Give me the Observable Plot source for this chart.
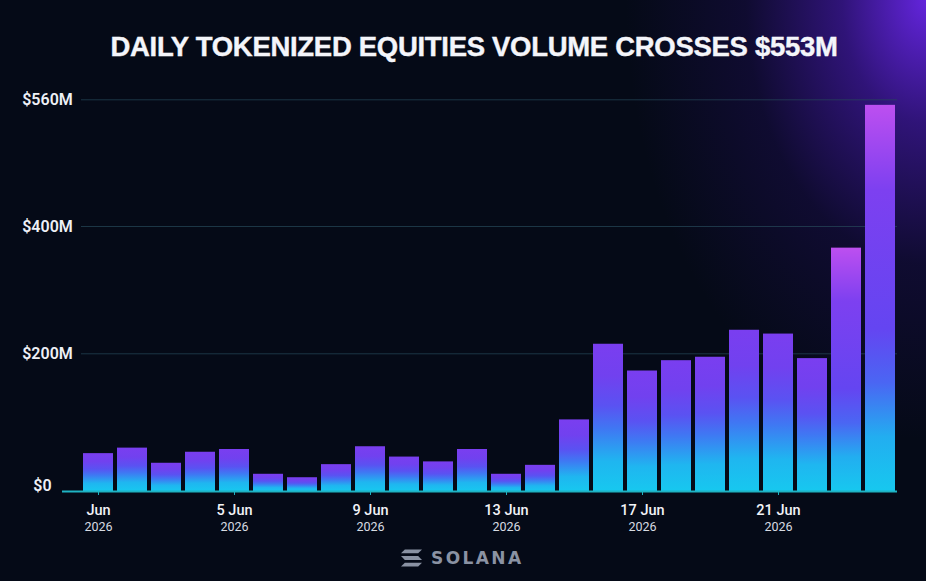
<!DOCTYPE html>
<html>
<head>
<meta charset="utf-8">
<script src="https://cdn.jsdelivr.net/npm/d3@7"></script>
<script src="https://cdn.jsdelivr.net/npm/@observablehq/plot@0.6"></script>
<style>
  html, body { margin: 0; padding: 0; background: #050a17; }
  #card {
    position: relative; width: 926px; height: 581px; overflow: hidden;
    background:
      radial-gradient(ellipse 300px 440px at 100% 0%, rgba(104,38,230,0.95) 0%, rgba(76,26,185,0.6) 28%, rgba(42,15,115,0.28) 60%, rgba(5,10,23,0) 100%),
      #050a17;
  }
  #title {
    position: absolute; left: 0; width: 948px; top: 31px; line-height: 30px;
    text-align: center; white-space: nowrap; letter-spacing: -0.3px;
    font: bold 27.5px "Liberation Sans", Arial, sans-serif; color: #f4f5fa;
    -webkit-text-stroke: 0.4px #f4f5fa;
  }
  #chart { position: absolute; left: 0; top: 0; }
  #brand {
    position: absolute; left: 401px; top: 548px; display: flex; align-items: center; gap: 9px;
    color: #8a92a3; font: bold 17px "DejaVu Sans", sans-serif; letter-spacing: 2.4px;
  }
</style>
</head>
<body>
<div id="card">
  <div id="chart"></div>
  <div id="title">DAILY TOKENIZED EQUITIES VOLUME CROSSES $553M</div>
  <div id="brand">
    <svg width="21" height="18" viewBox="0 0 22 18">
      <polygon points="4,0 22,0 18,4 0,4" fill="#8a92a3"/>
      <polygon points="0,7 18,7 22,11 4,11" fill="#8a92a3"/>
      <polygon points="4,14 22,14 18,18 0,18" fill="#8a92a3"/>
    </svg>
    <span>SOLANA</span>
  </div>
</div>
<script>
// Daily tokenized equities volume, June 2026 (millions of USD)
const dates = [
  "2026-06-01", "2026-06-02", "2026-06-03", "2026-06-04", "2026-06-05", "2026-06-06",
  "2026-06-07", "2026-06-08", "2026-06-09", "2026-06-10", "2026-06-11", "2026-06-12",
  "2026-06-13", "2026-06-14", "2026-06-15", "2026-06-16", "2026-06-17", "2026-06-18",
  "2026-06-19", "2026-06-20", "2026-06-21", "2026-06-22", "2026-06-23", "2026-06-24"
];
const volumes = [55, 63, 41, 57, 61, 25, 20, 39, 65, 50, 43, 61, 25, 38, 104, 215, 175, 190, 195, 237, 231, 193, 366, 553];

// Axis ticks
const tickDates = ["2026-06-01", "2026-06-05", "2026-06-09", "2026-06-13", "2026-06-17", "2026-06-21"];
const tickDays = ["Jun", "5 Jun", "9 Jun", "13 Jun", "17 Jun", "21 Jun"];
const tickYear = "2026";
const yTicks = [0, 200, 400, 560];
const yLabels = ["$0", "$200M", "$400M", "$560M"];

const data = dates.map((date, i) => ({date, volume: volumes[i]}));
const dayLabel = new Map(tickDates.map((d, i) => [d, tickDays[i]]));
const yLabel = new Map(yTicks.map((v, i) => [v, yLabels[i]]));

// Vertical gradients for the bars (cyan base rising into violet)
const gradients = () => {
  const defs = d3.create("svg:defs");
  const add = (id, stops) => {
    const g = defs.append("linearGradient").attr("id", id)
      .attr("x1", 0).attr("y1", 1).attr("x2", 0).attr("y2", 0);
    stops.forEach(([o, c]) => g.append("stop").attr("offset", o).attr("stop-color", c));
  };
  add("barCool", [[0, "#17c8ef"], [0.2, "#1fb6f0"], [0.42, "#3f78f3"], [0.58, "#5a52f2"], [0.78, "#7141ef"], [1, "#7a3ef0"]]);
  add("barHot", [[0, "#17c8ef"], [0.14, "#22aef0"], [0.28, "#4a66f3"], [0.42, "#6445f1"], [0.78, "#7d40f0"], [1, "#bd4ff0"]]);
  return defs.node();
};

const chart = Plot.plot({
  width: 926,
  height: 581,
  marginTop: 99,
  marginBottom: 90,
  marginLeft: 62,
  marginRight: 29,
  style: {background: "transparent", color: "#eef0f6", fontFamily: "Roboto, 'Liberation Sans', sans-serif"},
  x: {type: "band", domain: dates, range: [77.7, 899.8], padding: 0.12, axis: null},
  // piecewise linear scale: the upper tick bands are drawn slightly tighter than the lowest one
  y: {type: "linear", domain: yTicks, range: [491, 353.3, 226, 99.3], axis: null},
  marks: [
    gradients,
    Plot.ruleY(yTicks.filter(v => v > 0), {insetLeft: 19, stroke: "#27485a", strokeOpacity: 0.7, strokeWidth: 1}),
    Plot.barY(data, {x: "date", y: "volume", filter: d => d.volume <= 300, fill: "url(#barCool)"}),
    Plot.barY(data, {x: "date", y: "volume", filter: d => d.volume > 300, fill: "url(#barHot)"}),
    Plot.ruleY([0], {stroke: "#1fb3c3", strokeWidth: 2}),
    Plot.text(yTicks.filter(v => v > 0), {
      y: d => d, text: d => yLabel.get(d), frameAnchor: "left", dx: -15, textAnchor: "middle",
      fill: "#eef0f6", fontSize: 16, fontWeight: 600
    }),
    Plot.text([0], {
      y: d => d, text: d => yLabel.get(d), frameAnchor: "left", dx: -20, dy: -6, textAnchor: "middle",
      fill: "#eef0f6", fontSize: 16, fontWeight: 600
    }),
    Plot.axisX(tickDates, {
      tickSize: 4, tickPadding: 9, stroke: "#1fb3c3", fill: "#f2f3f7",
      fontSize: 14.5, fontWeight: 500, tickFormat: d => dayLabel.get(d), label: null
    }),
    Plot.axisX(tickDates, {
      tickSize: 0, tickPadding: 30.5, fill: "#d8dbe2",
      fontSize: 12.5, tickFormat: () => tickYear, label: null
    })
  ]
});

document.getElementById("chart").append(chart);
</script>
</body>
</html>
